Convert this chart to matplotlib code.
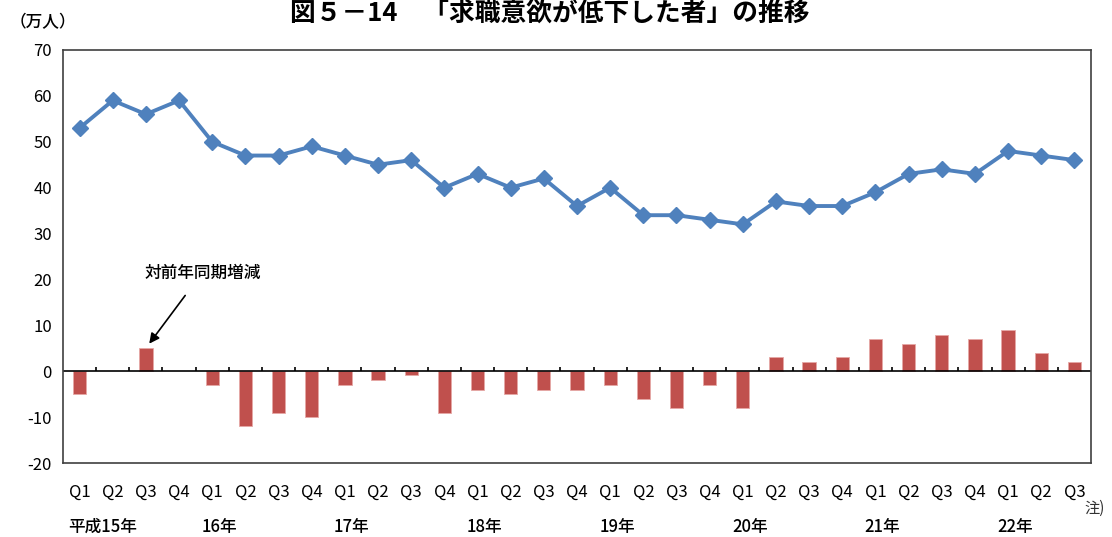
import matplotlib
matplotlib.use("Agg")
import matplotlib.pyplot as plt
import numpy as np

plt.rcParams['font.family'] = ['Noto Sans CJK JP', 'DejaVu Sans']
plt.rcParams['axes.unicode_minus'] = False

# 平成15年Q1 〜 22年Q3
quarters = ["Q1", "Q2", "Q3", "Q4"] * 7 + ["Q1", "Q2", "Q3"]
years = ["平成15年", "16年", "17年", "18年", "19年", "20年", "21年", "22年"]
persons = [53, 59, 56, 59, 50, 47, 47, 49, 47, 45, 46, 40, 43, 40, 42, 36,
           40, 34, 34, 33, 32, 37, 36, 36, 39, 43, 44, 43, 48, 47, 46]
# 対前年同期増減 (no value for 15年Q2, Q4)
change = [-5, np.nan, 5, np.nan, -3, -12, -9, -10, -3, -2, -0.8, -9, -4, -5, -4, -4,
          -3, -6, -8, -3, -8, 3, 2, 3, 7, 6, 8, 7, 9, 4, 2]

x = np.arange(len(persons))

fig = plt.figure(figsize=(11.12, 5.37), dpi=100)
ax = fig.add_axes([63 / 1112, 1 - 463 / 537, 1028 / 1112, 413 / 537])

ax.bar(x, change, width=0.4, color="#C0504D", edgecolor="#E6A8A6", linewidth=0.6, zorder=2)
ax.plot(x, persons, color="#4F81BD", lw=2.8, marker="D", markersize=8, zorder=3)

ax.set_xlim(-0.5, len(x) - 0.5)
ax.set_ylim(-20, 70)
ax.set_yticks(range(-20, 71, 10))
ax.tick_params(axis="y", length=0, labelsize=12, pad=8)
ax.set_xticks([])
for s in ax.spines.values():
    s.set_color("#404040")
    s.set_linewidth(1.2)

# axis line at zero with small ticks between categories
ax.axhline(0, color="black", lw=1.2, zorder=2.5)
ax.vlines(x[:-1] + 0.5, 0, 0.9, color="black", lw=1.2, zorder=2.5)

for xi, q in zip(x, quarters):
    ax.text(xi, -0.07, q, transform=ax.get_xaxis_transform(), ha="center", va="center",
            fontsize=12)
for i, y in enumerate(years):
    ax.text(i * 4 - 0.33, -0.155, y, transform=ax.get_xaxis_transform(), ha="left",
            va="center", fontsize=12, fontweight="medium")

ax.annotate("対前年同期増減", xy=(2.1, 6.0), xytext=(3.7, 21.5), ha="center", va="center",
            fontsize=12, fontweight="medium",
            arrowprops=dict(arrowstyle="-|>", color="black", lw=1.2, shrinkA=10, shrinkB=0,
                            mutation_scale=15))

fig.text(10 / 1112, 1 - 22 / 537, "（万人）", ha="left", va="center", fontsize=12,
         fontweight="medium")
fig.text(1084 / 1112, 1 - 508 / 537, "注)", ha="left", va="center", fontsize=11,
         color="#333333")
fig.text(550 / 1112, 1 - 13 / 537, "図５－14　「求職意欲が低下した者」の推移", ha="center",
         va="center", fontsize=18.5, fontweight="bold")

fig.savefig("out.png", dpi=100)
